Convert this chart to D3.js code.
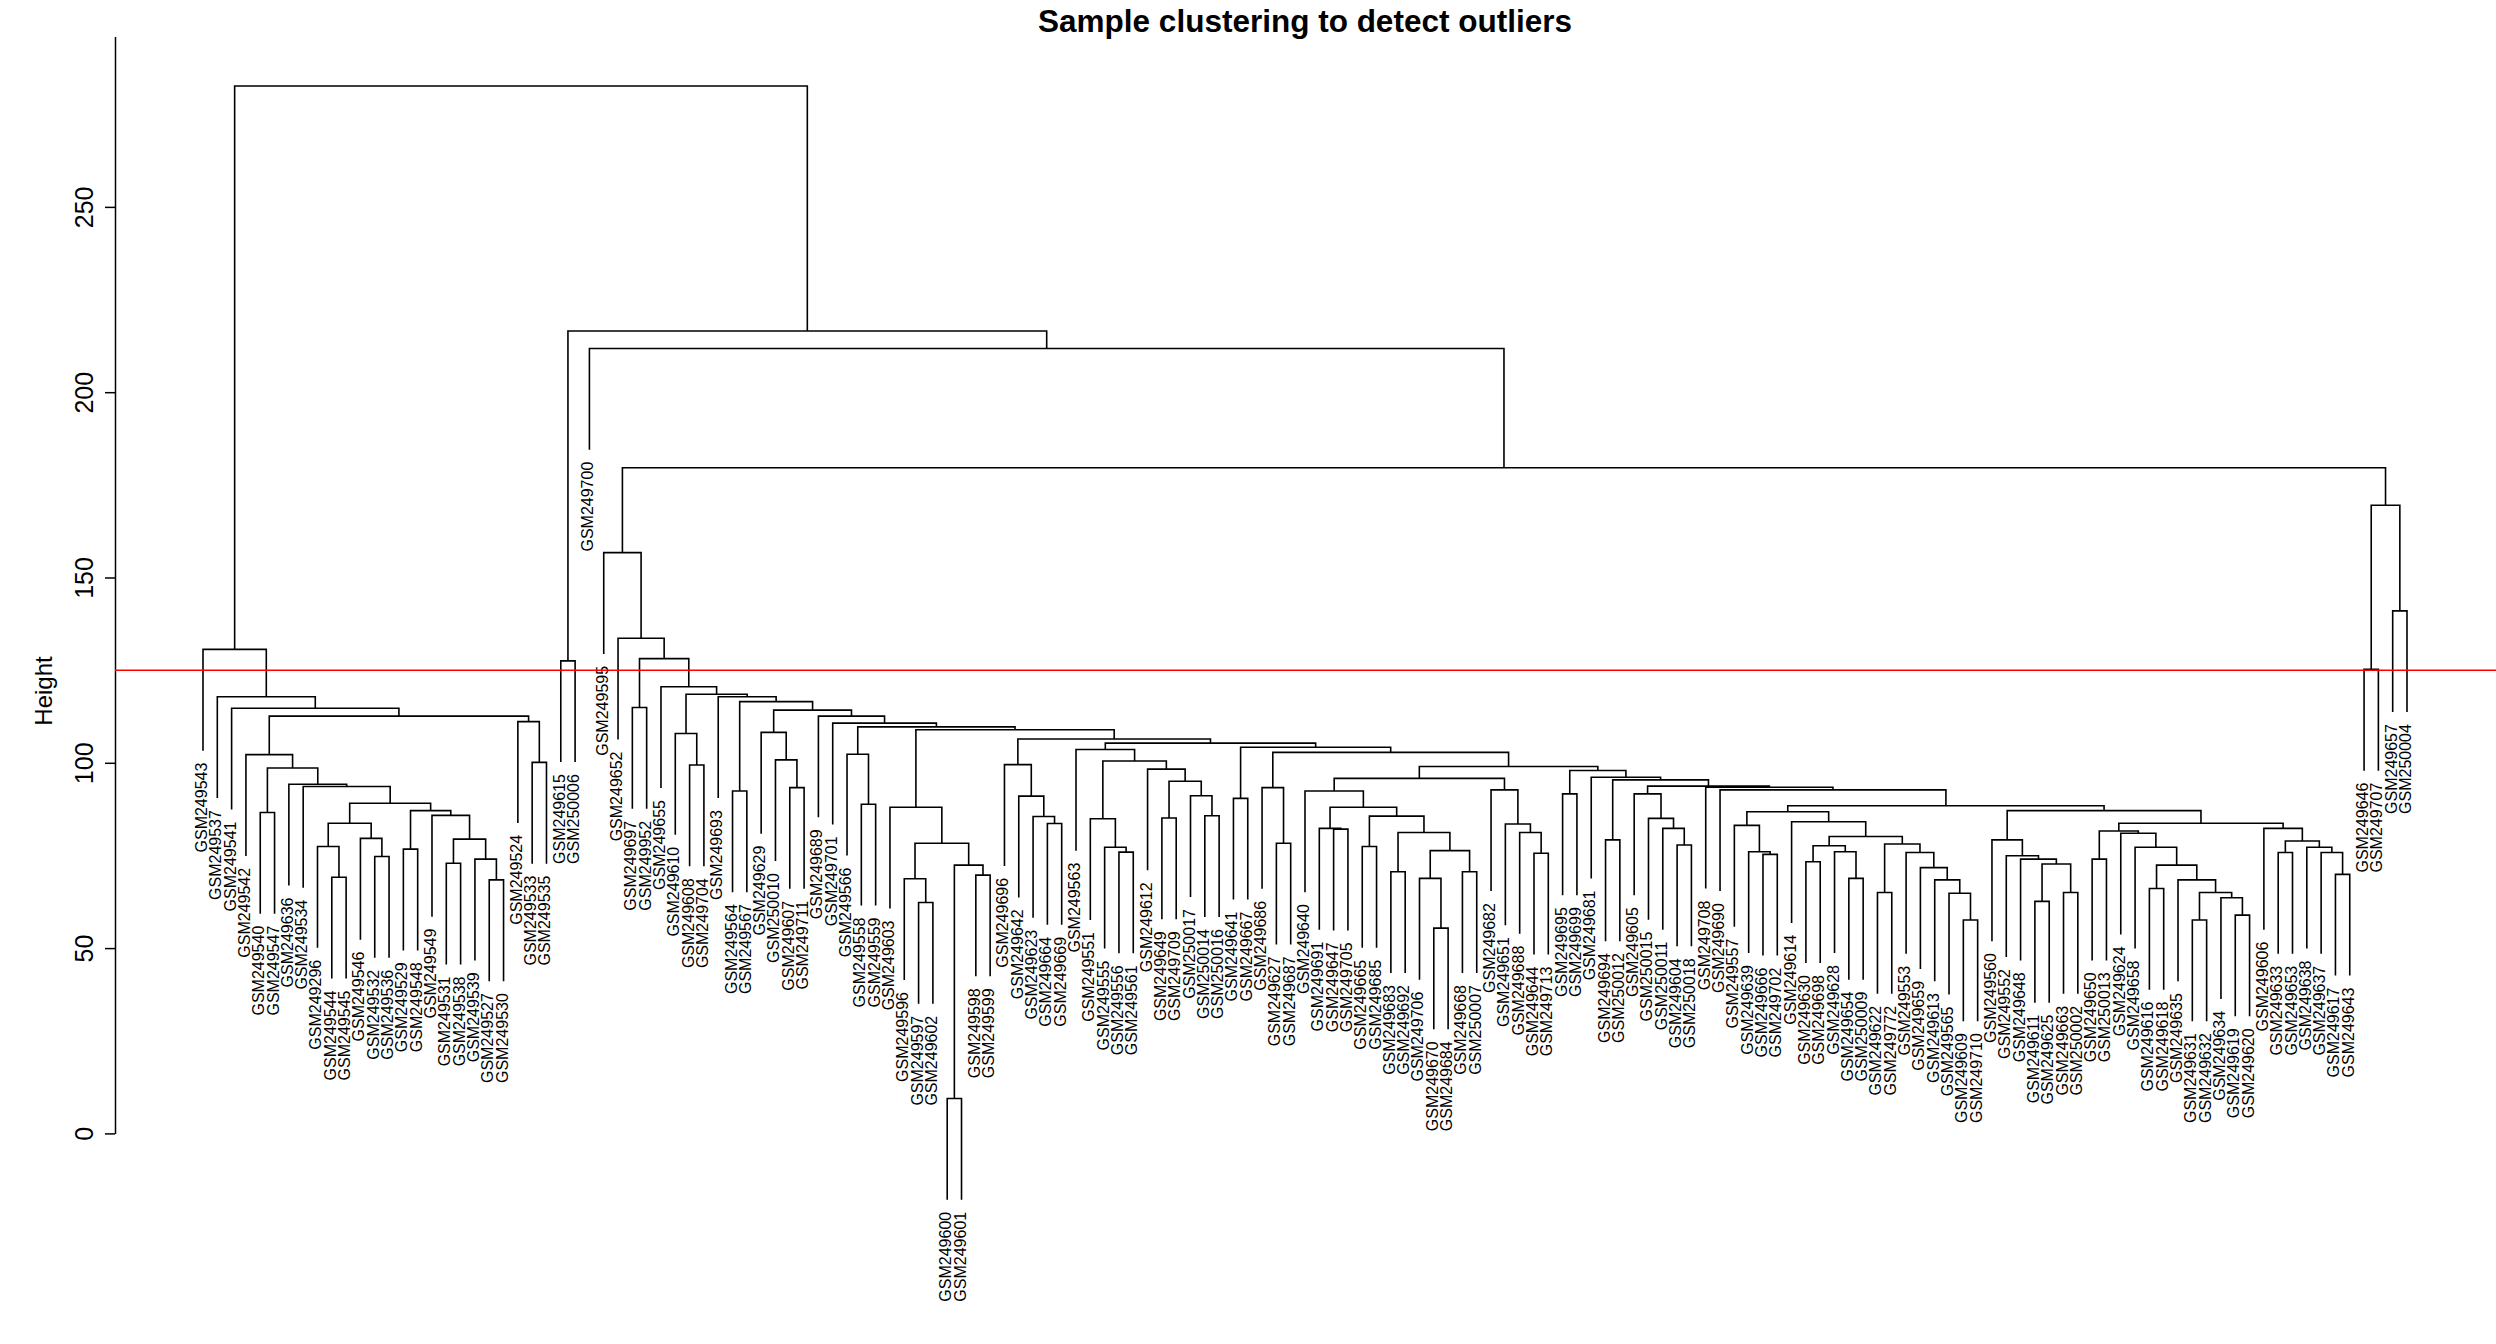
<!DOCTYPE html>
<html lang="en">
<head>
<meta charset="utf-8">
<title>Sample clustering to detect outliers</title>
<style>
body { margin: 0; background: #fff; }
svg { display: block; font-family: "Liberation Sans", Arial, sans-serif; }
.link { fill: none; stroke: #000; stroke-width: 1.6; }
.axis path, .axis line { fill: none; stroke: #000; stroke-width: 1.5; }
.leaf-label { font-size: 16px; fill: #000; }
.title { font-size: 31.5px; font-weight: bold; }
</style>
</head>
<body>
<script src="https://d3js.org/d3.v7.min.js"></script>
<script>

// each internal node: [merge height, left, right]; leaves are sample names
var clusterLeft = [130.6, "GSM249543",
  [117.8, "GSM249537",
    [114.7, "GSM249541",
      [112.6,
        [102.2, "GSM249542",
          [98.6,
            [86.6, "GSM249540", "GSM249547"],
            [94.2, "GSM249636",
              [93.6, "GSM249534",
                [89.1,
                  [83.7,
                    [77.4, "GSM249296", [69.1, "GSM249544", "GSM249545"]],
                    [79.6, "GSM249546", [74.7, "GSM249532", "GSM249536"]]],
                  [87.1,
                    [76.7, "GSM249529", "GSM249548"],
                    [85.8, "GSM249549",
                      [79.4,
                        [72.9, "GSM249531", "GSM249538"],
                        [74.0, "GSM249539", [68.4, "GSM249527", "GSM249530"]]]]]]]]]],
        [111.1, "GSM249524", [100.1, "GSM249533", "GSM249535"]]]]]];

var clusterPair = [127.5, "GSM249615", "GSM250006"];

var node88 = [88.4,
  [86.8,
    [83.1, "GSM249557", [76.0, "GSM249639", [75.3, "GSM249666", "GSM249702"]]],
    [84.1, "GSM249614",
      [80.1,
        [77.6, [73.3, "GSM249630", "GSM249698"], [76.0, "GSM249628", [68.8, "GSM249654", "GSM250009"]]],
        [78.1, [65.0, "GSM249622", "GSM249772"],
          [75.8, "GSM249553", [71.7, "GSM249659", [68.4, "GSM249613", [64.8, "GSM249565", [57.6, "GSM249609", "GSM249710"]]]]]]]]],
  [87.1,
    [79.2, "GSM249560", [74.9, "GSM249552", [74.0, "GSM249648",
      [72.7, [62.6, "GSM249611", "GSM249625"], [65.0, "GSM249663", "GSM250002"]]]]],
    [83.7,
      [81.6, [74.0, "GSM249650", "GSM250013"],
        [81.0, "GSM249624", [77.2, "GSM249658",
          [72.4, [66.1, "GSM249616", "GSM249618"],
            [68.4, "GSM249635", [65.0, [57.6, "GSM249631", "GSM249632"],
              [63.6, "GSM249634", [58.9, "GSM249619", "GSM249620"]]]]]]]],
      [82.3, "GSM249606", [78.9, [75.8, "GSM249633", "GSM249653"],
        [77.2, "GSM249638", [75.8, "GSM249637", [69.9, "GSM249617", "GSM249643"]]]]]]]];

var node96 = [95.8,
  [92.4, "GSM249640",
    [88.0,
      [82.3, "GSM249691", [82.1, "GSM249647", "GSM249705"]],
      [85.6,
        [77.4, "GSM249665", "GSM249685"],
        [81.2,
          [70.6, "GSM249683", "GSM249692"],
          [76.3,
            [68.8, "GSM249706", [55.4, "GSM249670", "GSM249684"]],
            [70.6, "GSM249668", "GSM250007"]]]]]],
  [92.7, "GSM249682", [83.5, "GSM249651", [81.2, "GSM249688", [75.6, "GSM249644", "GSM249713"]]]]];

var node98 = [97.9,
  [91.6, "GSM249695", "GSM249699"],
  [96.1, "GSM249681",
    [95.4,
      [79.2, "GSM249694", "GSM250012"],
      [93.7,
        [91.6, "GSM249605", [85.0, "GSM250015", [82.3, "GSM250011", [77.8, "GSM249604", "GSM250018"]]]],
        [93.4, "GSM249708", [92.7, "GSM249690", node88]]]]]];

var node109 = [108.9,
  [88.0, "GSM249603",
    [78.3,
      [68.7, "GSM249596", [62.3, "GSM249597", "GSM249602"]],
      [72.4, [9.4, "GSM249600", "GSM249601"], [69.7, "GSM249598", "GSM249599"]]]],
  [106.4,
    [99.5, "GSM249696", [91.0, "GSM249642", [85.5, "GSM249623", [83.6, "GSM249664", "GSM249669"]]]],
    [105.3,
      [103.6, "GSM249563",
        [100.5,
          [84.9, "GSM249551", [77.2, "GSM249555", [75.9, "GSM249556", "GSM249561"]]],
          [98.3, "GSM249612",
            [95.0,
              [85.1, "GSM249649", "GSM249709"],
              [91.1, "GSM250017", [85.7, "GSM250014", "GSM250016"]]]]]],
      [104.2,
        [90.4, "GSM249641", "GSM249667"],
        [102.8,
          [93.3, "GSM249686", [78.3, "GSM249627", "GSM249687"]],
          [99.0, node96, node98]]]]]];

var node110 = [110.7, "GSM249701",
  [109.7, [102.3, "GSM249566", [88.8, "GSM249558", "GSM249559"]], node109]];

var clusterMain = [156.7, "GSM249595",
  [133.6, "GSM249652",
    [128.1,
      [114.9, "GSM249697", "GSM249952"],
      [120.5, "GSM249655",
        [118.5,
          [107.9, "GSM249610", [99.4, "GSM249608", "GSM249704"]],
          [117.8, "GSM249693",
            [116.5,
              [92.4, "GSM249564", "GSM249567"],
              [114.2,
                [108.2, "GSM249629", [100.8, "GSM250010", [93.3, "GSM249607", "GSM249711"]]],
                [112.6, "GSM249689", node110]
              ]
            ]
          ]
        ]
      ]
    ]
  ]
];

var clusterRight = [169.5, [125.2, "GSM249646", "GSM249707"], [141.0, "GSM249657", "GSM250004"]];

var tree = [282.6, clusterLeft,
  [216.5, clusterPair,
    [211.8, "GSM249700",
      [179.6, clusterMain, clusterRight]]]];

var yTicks = [0, 50, 100, 150, 200, 250];
var cutHeight = 125;

var width = 2496, height = 1344;

var svg = d3.select("body").append("svg")
    .attr("width", width)
    .attr("height", height);

var root = d3.hierarchy(tree, function(d) { return Array.isArray(d) ? d.slice(1) : null; });
var leaves = root.leaves();

var x = d3.scaleLinear().domain([0, leaves.length - 1]).range([203, 2407]);
var y = d3.scaleLinear().domain([0, 296]).range([1133.4, 36.4]);

// merge heights and the hang of the leaves (10% of the height range, as plot.hclust does)
var heights = root.descendants().filter(function(d) { return d.children; })
    .map(function(d) { return d.data[0]; });
var hang = 0.1 * (d3.max(heights) - d3.min(heights));

leaves.forEach(function(d, i) { d.x = x(i); });
root.eachAfter(function(d) {
  if (d.children) {
    d.h = d.data[0];
    d.x = d3.mean(d.children, function(c) { return c.x; });
  } else {
    d.h = d.parent.data[0] - hang;
  }
});

// the tree
svg.append("g").selectAll("path")
    .data(root.descendants().filter(function(d) { return d.children; }))
  .join("path")
    .attr("class", "link")
    .attr("d", function(d) {
      var a = d.children[0], b = d.children[1];
      return "M" + a.x + "," + y(a.h) + "V" + y(d.h) + "H" + b.x + "V" + y(b.h);
    });

// leaf labels
svg.append("g").selectAll("text")
    .data(leaves)
  .join("text")
    .attr("class", "leaf-label")
    .attr("transform", function(d) { return "translate(" + d.x + "," + (y(d.h) + 12) + ") rotate(-90)"; })
    .attr("text-anchor", "end")
    .attr("dy", "0.25em")
    .text(function(d) { return d.data; });

// y axis
var axis = svg.append("g")
    .attr("class", "axis")
    .attr("transform", "translate(115,0)")
    .call(d3.axisLeft(y).tickValues(yTicks).tickSize(10).tickSizeOuter(0));

axis.selectAll(".tick text")
    .attr("x", null).attr("dy", null)
    .attr("transform", "translate(-22,0) rotate(-90)")
    .attr("text-anchor", "middle")
    .style("font-size", "25px")
    .style("font-family", "Liberation Sans, Arial, sans-serif")
    .attr("fill", "#000");

svg.append("text")
    .attr("transform", "translate(52,691) rotate(-90)")
    .attr("text-anchor", "middle")
    .style("font-size", "24px")
    .text("Height");

svg.append("text")
    .attr("class", "title")
    .attr("x", 1305)
    .attr("y", 32)
    .attr("text-anchor", "middle")
    .text("Sample clustering to detect outliers");

// cut line
svg.append("line")
    .attr("x1", 115).attr("x2", width)
    .attr("y1", y(cutHeight)).attr("y2", y(cutHeight))
    .attr("stroke", "#ff0000")
    .attr("stroke-width", 1.5);

</script>
</body>
</html>
